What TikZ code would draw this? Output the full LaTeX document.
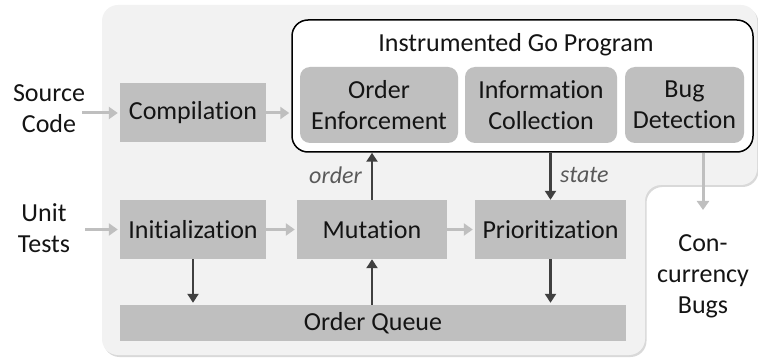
\documentclass[tikz,border=0pt]{standalone}
\usepackage{fontspec}
\setmainfont[RawFeature=-liga]{Carlito}
\usetikzlibrary{arrows.meta,shadows}
\definecolor{bgc}{HTML}{F2F2F2}
\definecolor{boxc}{HTML}{BFBFBF}
\definecolor{darkc}{HTML}{404040}
\definecolor{txtc}{HTML}{141414}
\definecolor{lblc}{HTML}{595959}
\tikzset{
  txt/.style={font=\fontsize{26}{31}\selectfont, text=txtc, align=center, inner sep=0pt},
  sqbox/.style={txt, fill=boxc, minimum height=59pt},
  rbox/.style={txt, fill=boxc, rounded corners=10pt, minimum height=76pt},
  larr/.style={draw=boxc, line width=3pt, -{Triangle[length=9pt,width=12pt]}},
  darr/.style={draw=darkc, line width=2.6pt, -{Triangle[length=9pt,width=11pt]}},
  lbl/.style={font=\fontsize{24}{28}\selectfont\itshape, text=lblc, inner sep=0pt}
}
\begin{document}
\begin{tikzpicture}[x=1pt,y=-1pt]
\useasboundingbox (0,0) rectangle (758,358);
% background
\path[fill=bgc, rounded corners=16pt, drop shadow={shadow xshift=1.5pt, shadow yshift=-2pt, opacity=0.3}]
  (102,5) -- (757,5) -- (757,185) -- (645,185) -- (645,355) -- (102,355) -- cycle;
% instrumented program
\node[draw=black, line width=1.5pt, fill=white, rounded corners=16pt, minimum width=461pt, minimum height=132pt] (igp) at (522.5,86) {};
\node[txt] (title) at (516,45) {Instrumented Go Program};
\node[rbox, minimum width=158pt] (oe) at (379,105) {Order\\Enforcement};
\node[rbox, minimum width=152pt] (ic) at (541,105) {Information\\Collection};
\node[rbox, minimum width=119pt] (bd) at (684.5,105) {Bug\\Detection};
% boxes
\node[sqbox, minimum width=146pt] (comp) at (193,113) {Compilation};
\node[sqbox, minimum width=146pt] (init) at (193,229.5) {Initialization};
\node[sqbox, minimum width=150pt] (mut) at (372,229.5) {Mutation};
\node[sqbox, minimum width=151pt] (prio) at (550.5,229.5) {Prioritization};
\node[txt, fill=boxc, minimum width=506pt, minimum height=36pt] (oq) at (373,323) {Order Queue};
% outside texts
\node[txt] (src) at (49,109) {Source\\Code};
\node[txt] (ut) at (44,228) {Unit\\Tests};
\node[txt, anchor=north] (cb) at (703,234) {Con-\\currency\\Bugs};
% light arrows
\draw[larr] ([xshift=-3pt]src.east |- comp.west) -- ([xshift=-2pt]comp.west);
\draw[larr] (comp.east) -- ([xshift=-2pt]igp.west |- comp.east);
\draw[larr] ([xshift=15pt]ut.east |- init.west) -- ([xshift=-2pt]init.west);
\draw[larr] (init.east) -- ([xshift=-2pt]mut.west);
\draw[larr] (mut.east) -- ([xshift=-2pt]prio.west);
\draw[larr] (igp.south -| cb.north) -- ([yshift=24pt]cb.north);
% dark arrows
\draw[darr] (mut.north) -- (mut.north |- igp.south);
\draw[darr] (igp.south -| prio.north) -- (prio.north);
\draw[darr] (init.south) -- ([yshift=2pt]init.south |- oq.north);
\draw[darr] (oq.north -| mut.south) -- (mut.south);
\draw[darr] (prio.south) -- ([yshift=2pt]prio.south |- oq.north);
% labels
\node[lbl, anchor=east] (lo) at (362,175) {order};
\node[lbl, anchor=west] (ls) at (560,175) {state};
\end{tikzpicture}
\end{document}
